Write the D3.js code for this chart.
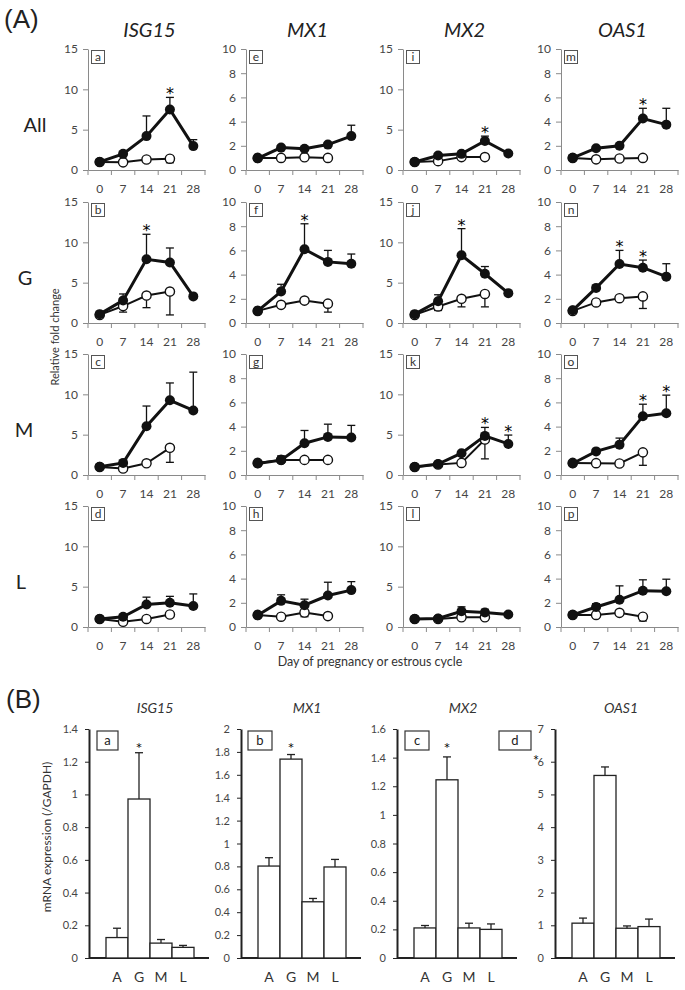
<!DOCTYPE html>
<html><head><meta charset="utf-8">
<script src="https://cdn.jsdelivr.net/npm/d3@7"></script>
<style>
body{margin:0;background:#fff;}
svg{display:block;font-family:Lato,"Open Sans",sans-serif;}
</style>
</head><body>
<svg id="c" width="685" height="990"></svg>
<script>
// ---------- DATA ----------
const days = [0, 7, 14, 21, 28];
const cycleDays = [0, 7, 14, 21];
const genes = ["ISG15", "MX1", "MX2", "OAS1"];
const groups = ["All", "G", "M", "L"];
const panelLettersA = [["a","b","c","d"],["e","f","g","h"],["i","j","k","l"],["m","n","o","p"]];
const yMaxA = [15, 10, 15, 10];
const yTicksA = [[0,5,10,15],[0,2,4,6,8,10],[0,5,10,15],[0,2,4,6,8,10]];

// pregnancy (filled) means per group [All, G, M, L]
const isg15PregMean = [[1.0,2.0,4.2,7.5,2.96],[1.1,2.8,7.9,7.5,3.3],[1.03,1.5,6.05,9.26,8.0],[1.0,1.27,2.8,3.0,2.6]];
const isg15PregErr  = [[0,0,2.5,1.5,0.8],[0,0.8,3.1,1.8,0],[0,0,2.5,2.15,4.75],[0,0,0.9,0.8,1.5]];
const mx1PregMean   = [[0.97,1.85,1.75,2.1,2.8],[1.0,2.6,6.1,5.05,4.9],[0.95,1.23,2.63,3.15,3.1],[0.97,2.16,1.8,2.6,3.05]];
const mx1PregErr    = [[0,0,0,0,0.9],[0,0.6,2.1,0.95,0.8],[0,0.35,1.05,1.05,1.0],[0,0.5,0.5,1.1,0.7]];
const mx2PregMean   = [[1.0,1.8,2.0,3.6,2.05],[1.1,2.7,8.4,6.1,3.7],[1.0,1.35,2.7,4.85,3.85],[1.0,1.05,1.95,1.8,1.55]];
const mx2PregErr    = [[0,0,0,0.6,0],[0,0.8,3.3,0.9,0],[0,0,0,1.05,1.1],[0,0,0.55,0.4,0]];
const oas1PregMean  = [[1.0,1.8,2.0,4.25,3.75],[1.05,2.9,4.87,4.57,3.83],[0.95,1.95,2.5,4.85,5.1],[1.0,1.65,2.25,3.0,2.95]];
const oas1PregErr   = [[0,0,0,0.85,1.35],[0,0.2,1.13,0.63,1.07],[0,0,0.55,1.0,1.5],[0,0.28,1.15,0.9,1.0]];

// estrous cycle (open) means per group, errors drawn downward
const isg15CycMean = [[1.0,0.95,1.3,1.4],[1.0,2.1,3.4,3.9],[1.0,0.8,1.45,3.37],[1.0,0.65,1.0,1.55]];
const isg15CycErr  = [[0,0,0,0.5],[0,0.75,1.5,2.9],[0,0,0,1.8],[0,0,0,0.2]];
const mx1CycMean   = [[1.0,1.0,1.05,1.0],[1.0,1.5,1.85,1.6],[1.0,1.25,1.25,1.25],[1.0,0.85,1.2,0.9]];
const mx1CycErr    = [[0,0,0,0],[0,0.2,0.2,0.7],[0,0,0,0],[0,0,0.35,0]];
const mx2CycMean   = [[1.0,1.1,1.6,1.6],[1.0,2.05,3.0,3.6],[1.0,1.3,1.5,4.4],[1.0,1.0,1.2,1.2]];
const mx2CycErr    = [[0,0,0,0],[0,0.5,1.0,1.6],[0,0,0.3,2.4],[0,0,0.2,0.2]];
const oas1CycMean  = [[1.0,0.88,0.95,1.0],[1.0,1.7,2.05,2.2],[1.0,0.98,0.95,1.87],[1.0,1.0,1.17,0.85]];
const oas1CycErr   = [[0,0.1,0.1,0.1],[0,0.2,0.2,1.0],[0,0,0,1.07],[0,0.2,0.2,0.35]];

// significance stars [gene, group, day]
const starsA = [["ISG15","All",21],["ISG15","G",14],["MX1","G",14],["MX2","All",21],["MX2","G",14],
  ["MX2","M",21],["MX2","M",28],["OAS1","All",21],["OAS1","G",14],["OAS1","G",21],["OAS1","M",21],["OAS1","M",28]];

// Panel B
const bCats = ["A", "G", "M", "L"];
const bLetters = ["a", "b", "c", "d"];
const bISG15 = [0.125, 0.972, 0.091, 0.065];
const bISG15Err = [0.057, 0.283, 0.022, 0.012];
const bMX1 = [0.803, 1.737, 0.491, 0.795];
const bMX1Err = [0.073, 0.04, 0.029, 0.066];
const bMX2 = [0.21, 1.245, 0.21, 0.2];
const bMX2Err = [0.017, 0.16, 0.033, 0.038];
const bOAS1 = [1.065, 5.58, 0.91, 0.96];
const bOAS1Err = [0.155, 0.26, 0.07, 0.23];
const bMax = [1.4, 2, 1.6, 7];
const bTicks = [[0,0.2,0.4,0.6,0.8,1,1.2,1.4],[0,0.2,0.4,0.6,0.8,1,1.2,1.4,1.6,1.8,2],[0,0.2,0.4,0.6,0.8,1,1.2,1.4,1.6],[0,1,2,3,4,5,6,7]];

// ---------- DRAW ----------
const svg = d3.select("#c");
const pregMeans = [isg15PregMean, mx1PregMean, mx2PregMean, oas1PregMean];
const pregErrs = [isg15PregErr, mx1PregErr, mx2PregErr, oas1PregErr];
const cycMeans = [isg15CycMean, mx1CycMean, mx2CycMean, oas1CycMean];
const cycErrs = [isg15CycErr, mx1CycErr, mx2CycErr, oas1CycErr];

const colX = [88, 246, 403, 561];
const rowZero = [170, 323, 475, 627];
const plotH = 121, plotW = 117;
const axisGray = "#8a8a8a", textGray = "#454545", ink = "#111";
const starFont = "DejaVu Sans, sans-serif";

svg.append("text").attr("x", 4).attr("y", 28).attr("font-family", "Liberation Sans, Arial, sans-serif")
  .attr("font-size", 26).attr("fill", "#222").text("(A)");
svg.append("text").attr("x", 6).attr("y", 708).attr("font-family", "Liberation Sans, Arial, sans-serif")
  .attr("font-size", 26).attr("fill", "#222").text("(B)");

genes.forEach((gene, gi) => {
  svg.append("text").attr("x", colX[gi] + plotW / 2 + 3).attr("y", 37)
    .attr("text-anchor", "middle").attr("font-style", "italic").attr("font-size", 20)
    .attr("fill", "#222").text(gene);
});
const rowLabelX = [35, 25, 24, 21];
groups.forEach((gr, ri) => {
  svg.append("text").attr("x", rowLabelX[ri]).attr("y", rowZero[ri] - 38)
    .attr("text-anchor", "middle").attr("font-size", 20).attr("fill", "#222").text(gr);
});

genes.forEach((gene, gi) => {
  groups.forEach((gr, ri) => {
    const x0 = colX[gi], y0 = rowZero[ri];
    const x = d3.scaleBand().domain(days).range([x0, x0 + plotW]);
    const y = d3.scaleLinear().domain([0, yMaxA[gi]]).range([y0, y0 - plotH]);
    const cx = d => x(d) + x.bandwidth() / 2;
    const g = svg.append("g");

    const ya = g.append("g").attr("transform", `translate(${x0},0)`)
      .call(d3.axisLeft(y).tickValues(yTicksA[gi]).tickSize(5).tickPadding(5).tickSizeOuter(0));
    ya.select(".domain").attr("stroke", axisGray);
    ya.selectAll(".tick line").attr("stroke", axisGray);
    ya.selectAll("text").attr("font-size", 12).attr("fill", textGray).attr("font-family", "Lato, sans-serif");

    const xa = g.append("g").attr("transform", `translate(0,${y0})`)
      .call(d3.axisBottom(x).tickSize(0).tickPadding(14).tickSizeOuter(0));
    xa.select(".domain").attr("stroke", axisGray);
    xa.selectAll("text").attr("font-size", 12).attr("fill", textGray).attr("font-family", "Lato, sans-serif");
    const bounds = d3.range(days.length + 1).map(i => x0 + i * x.step());
    g.selectAll(".bt").data(bounds).join("line")
      .attr("x1", d => d).attr("x2", d => d).attr("y1", y0).attr("y2", y0 + 5).attr("stroke", axisGray);

    g.append("rect").attr("x", x0 + 3.5).attr("y", y0 - plotH + 1.5).attr("width", 13).attr("height", 13)
      .attr("fill", "#fff").attr("stroke", "#555").attr("stroke-width", 1);
    g.append("text").attr("x", x0 + 10).attr("y", y0 - plotH + 12).attr("text-anchor", "middle")
      .attr("font-size", 12).attr("fill", "#333").text(panelLettersA[gi][ri]);

    const pm = pregMeans[gi][ri], pe = pregErrs[gi][ri];
    const cm = cycMeans[gi][ri], ce = cycErrs[gi][ri];
    const cyc = cycleDays.map((d, i) => ({d, v: cm[i], e: ce[i]}));
    const preg = days.map((d, i) => ({d, v: pm[i], e: pe[i]}));
    const line = d3.line().x(p => cx(p.d)).y(p => y(p.v));

    cyc.filter(p => p.e > 0).forEach(p => {
      g.append("line").attr("x1", cx(p.d)).attr("x2", cx(p.d)).attr("y1", y(p.v)).attr("y2", y(p.v - p.e))
        .attr("stroke", ink).attr("stroke-width", 1.3);
      g.append("line").attr("x1", cx(p.d) - 4).attr("x2", cx(p.d) + 4).attr("y1", y(p.v - p.e)).attr("y2", y(p.v - p.e))
        .attr("stroke", ink).attr("stroke-width", 1.3);
    });
    g.append("path").datum(cyc).attr("d", line).attr("fill", "none").attr("stroke", ink).attr("stroke-width", 2);
    g.selectAll(".oc").data(cyc).join("circle").attr("cx", p => cx(p.d)).attr("cy", p => y(p.v)).attr("r", 4.6)
      .attr("fill", "#fff").attr("stroke", ink).attr("stroke-width", 1.4);

    preg.filter(p => p.e > 0).forEach(p => {
      g.append("line").attr("x1", cx(p.d)).attr("x2", cx(p.d)).attr("y1", y(p.v)).attr("y2", y(p.v + p.e))
        .attr("stroke", ink).attr("stroke-width", 1.3);
      g.append("line").attr("x1", cx(p.d) - 4).attr("x2", cx(p.d) + 4).attr("y1", y(p.v + p.e)).attr("y2", y(p.v + p.e))
        .attr("stroke", ink).attr("stroke-width", 1.3);
    });
    g.append("path").datum(preg).attr("d", line).attr("fill", "none").attr("stroke", ink).attr("stroke-width", 3);
    g.selectAll(".fc").data(preg).join("circle").attr("cx", p => cx(p.d)).attr("cy", p => y(p.v)).attr("r", 5)
      .attr("fill", ink);

    starsA.filter(s => s[0] === gene && s[1] === gr).forEach(s => {
      const i = days.indexOf(s[2]);
      g.append("text").attr("x", cx(s[2])).attr("y", y(pm[i] + pe[i]) + 2).attr("text-anchor", "middle")
        .attr("font-family", starFont).attr("font-size", 16).attr("fill", "#000").text("*");
    });
  });
});

svg.append("text").attr("transform", "translate(59,337) rotate(-90)").attr("text-anchor", "middle")
  .attr("font-size", 11).attr("fill", "#333").text("Relative fold change");
svg.append("text").attr("x", 370).attr("y", 666).attr("text-anchor", "middle")
  .attr("font-size", 12.5).attr("fill", "#333").text("Day of pregnancy or estrous cycle");

// ---------- Panel B ----------
const bVals = [bISG15, bMX1, bMX2, bOAS1];
const bErrs = [bISG15Err, bMX1Err, bMX2Err, bOAS1Err];
const bAxisX = [89, 241, 397, 555];
const bZero = 958, bTop = 729;
const bLetterPos = [[97, 21], [248, 24], [405, 24], [499, 32]];

genes.forEach((gene, gi) => {
  const ax = bAxisX[gi];
  const x = d3.scaleBand().domain(bCats).range([ax + 17, ax + 105]).padding(0);
  const y = d3.scaleLinear().domain([0, bMax[gi]]).range([bZero, bTop]);
  const g = svg.append("g");

  svg.append("text").attr("x", ax + 66).attr("y", 713).attr("text-anchor", "middle")
    .attr("font-style", "italic").attr("font-size", 14).attr("fill", "#333").text(gene);

  const ya = g.append("g").attr("transform", `translate(${ax},0)`)
    .call(d3.axisLeft(y).tickValues(bTicks[gi]).tickSize(4).tickPadding(7).tickSizeOuter(0)
      .tickFormat(d3.format("")));
  ya.select(".domain").attr("stroke", "#222").attr("stroke-width", 2);
  ya.selectAll(".tick line").attr("stroke", "#222");
  ya.selectAll("text").attr("font-size", 11).attr("fill", textGray).attr("font-family", "Lato, sans-serif");

  g.append("line").attr("x1", ax).attr("x2", ax + 120).attr("y1", bZero).attr("y2", bZero)
    .attr("stroke", "#222").attr("stroke-width", 2);

  g.selectAll(".bar").data(bCats).join("rect")
    .attr("x", c => x(c)).attr("width", x.bandwidth())
    .attr("y", (c, i) => y(bVals[gi][i])).attr("height", (c, i) => bZero - y(bVals[gi][i]))
    .attr("fill", "#fff").attr("stroke", "#222").attr("stroke-width", 1.3);

  bCats.forEach((c, i) => {
    const xc = x(c) + x.bandwidth() / 2;
    const top = y(bVals[gi][i] + bErrs[gi][i]);
    g.append("line").attr("x1", xc).attr("x2", xc).attr("y1", y(bVals[gi][i])).attr("y2", top)
      .attr("stroke", "#222").attr("stroke-width", 1.3);
    g.append("line").attr("x1", xc - 4).attr("x2", xc + 4).attr("y1", top).attr("y2", top)
      .attr("stroke", "#222").attr("stroke-width", 1.3);
    g.append("text").attr("x", xc).attr("y", 982).attr("text-anchor", "middle")
      .attr("font-size", 14).attr("fill", "#333").text(c);
  });

  const lp = bLetterPos[gi];
  g.append("rect").attr("x", lp[0]).attr("y", 731).attr("width", lp[1]).attr("height", 19)
    .attr("fill", "#fff").attr("stroke", "#333").attr("stroke-width", 1.2);
  g.append("text").attr("x", lp[0] + lp[1] / 2).attr("y", 745).attr("text-anchor", "middle")
    .attr("font-size", 13).attr("fill", "#222").text(bLetters[gi]);

  if (gi < 3) {
    g.append("text").attr("x", x("G") + x.bandwidth() / 2).attr("y", 751).attr("text-anchor", "middle")
      .attr("font-family", starFont).attr("font-size", 11).attr("fill", "#000").text("*");
  } else {
    g.append("text").attr("x", ax - 19).attr("y", y(6) + 1).attr("text-anchor", "middle")
      .attr("font-family", starFont).attr("font-size", 10).attr("fill", "#000").text("*");
  }
});

svg.append("text").attr("transform", "translate(51,837) rotate(-90)").attr("text-anchor", "middle")
  .attr("font-size", 12).attr("fill", "#333").text("mRNA expression (/GAPDH)");
</script>
</body></html>
